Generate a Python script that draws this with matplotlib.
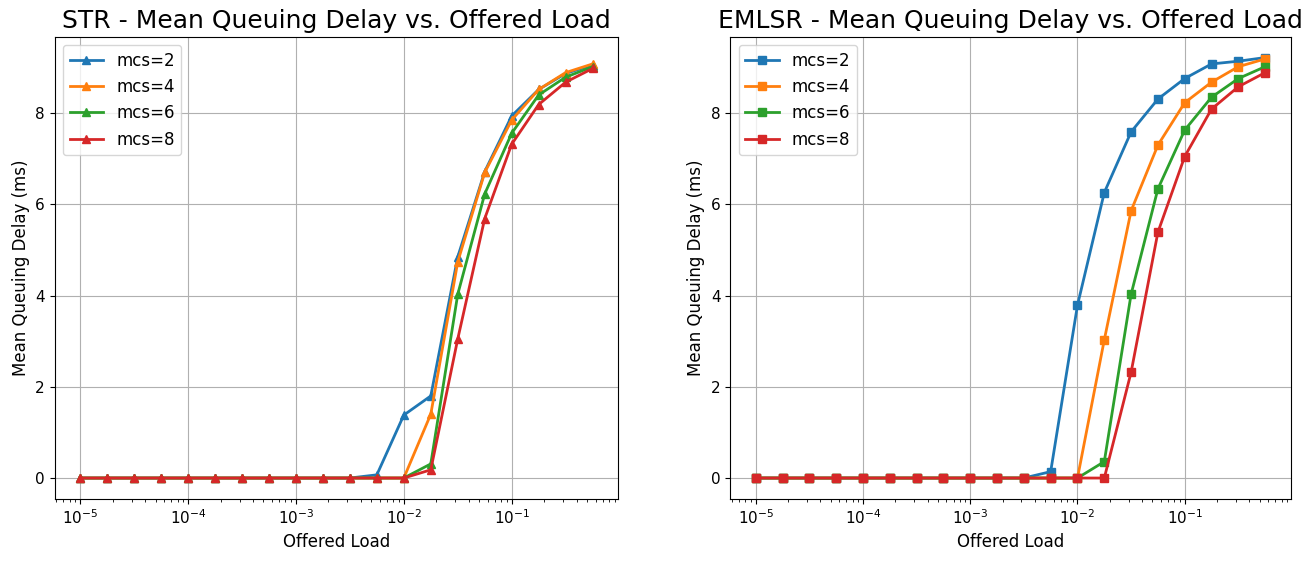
import matplotlib
matplotlib.use('Agg')
import matplotlib.pyplot as plt
import numpy as np

# offered load: 4 points per decade, 1e-5 .. 10^-0.25
offered_load = 10 ** np.arange(-5, 0, 0.25)
mcs_values = [2, 4, 6, 8]

zeros11 = [0.0] * 11

str_delay = {
    2: zeros11 + [0.07, 1.38, 1.80, 4.85, 6.72, 7.94, 8.52, 8.87, 9.06],
    4: zeros11 + [0.0, 0.0, 1.40, 4.74, 6.70, 7.85, 8.52, 8.89, 9.08],
    6: zeros11 + [0.0, 0.0, 0.31, 4.03, 6.23, 7.56, 8.40, 8.79, 9.02],
    8: zeros11 + [0.0, 0.0, 0.18, 3.05, 5.69, 7.32, 8.19, 8.68, 8.98],
}

emlsr_delay = {
    2: zeros11 + [0.14, 3.79, 6.26, 7.59, 8.31, 8.76, 9.08, 9.14, 9.22],
    4: zeros11 + [0.0, 0.0, 3.03, 5.86, 7.30, 8.23, 8.68, 9.02, 9.19],
    6: zeros11 + [0.0, 0.0, 0.36, 4.03, 6.34, 7.63, 8.35, 8.76, 9.02],
    8: zeros11 + [0.0, 0.0, 0.0, 2.32, 5.39, 7.05, 8.09, 8.58, 8.89],
}

plt.rcParams['font.size'] = 11

fig = plt.figure(figsize=(13.14, 5.62), dpi=100)
ax1 = fig.add_axes([0.0415, 0.112, 0.4290, 0.823])
ax2 = fig.add_axes([0.5558, 0.112, 0.4264, 0.823])

# both panels share the same y range
ymax = max(max(v) for d in (str_delay, emlsr_delay) for v in d.values())
pad = 0.05 * ymax


def draw(ax, data, marker, title):
    for mcs in mcs_values:
        ax.plot(offered_load, data[mcs], marker=marker, linewidth=2,
                markersize=6, label=f'mcs={mcs}')
    ax.set_xscale('log')
    ax.set_ylim(-pad, ymax + pad)
    ax.set_title(title, fontsize=18)
    ax.set_xlabel('Offered Load', fontsize=12)
    ax.set_ylabel('Mean Queuing Delay (ms)', fontsize=12)
    ax.set_yticks([0, 2, 4, 6, 8])
    ax.grid(True)
    ax.legend(loc='upper left', fontsize=12)


draw(ax1, str_delay, '^', 'STR - Mean Queuing Delay vs. Offered Load')
draw(ax2, emlsr_delay, 's', 'EMLSR - Mean Queuing Delay vs. Offered Load')

fig.savefig('out.png', dpi=100)
